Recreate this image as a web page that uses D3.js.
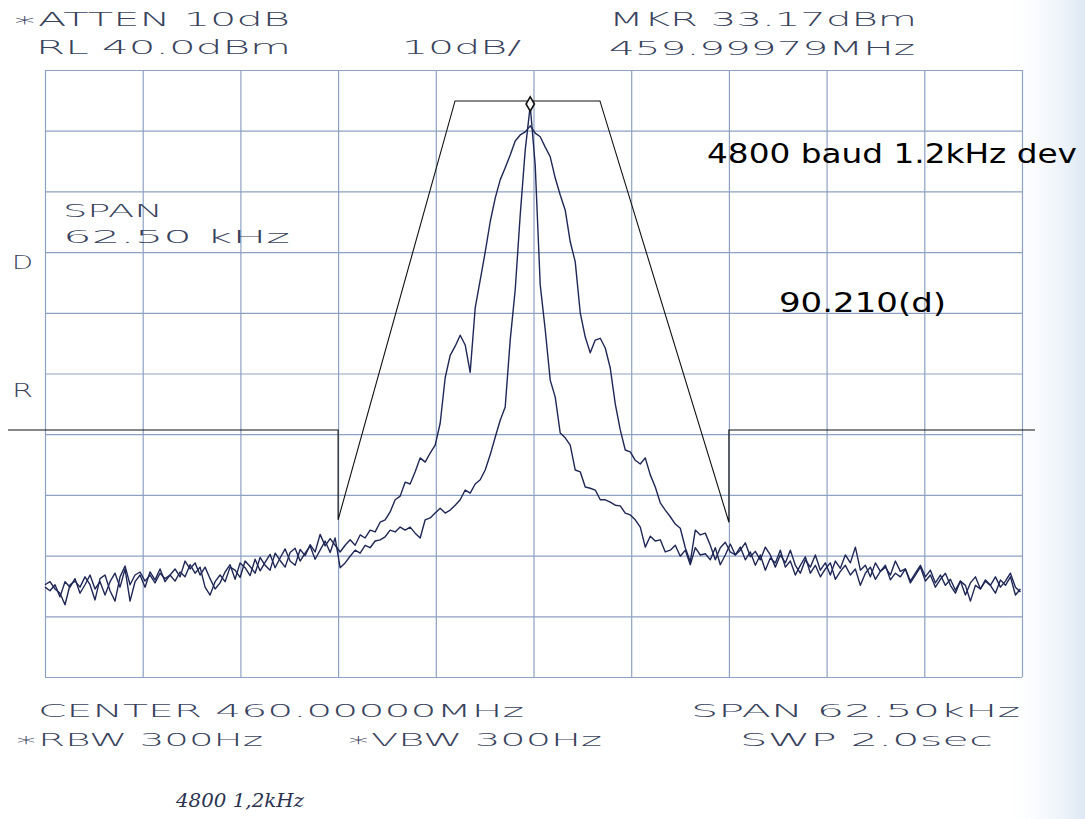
<!DOCTYPE html>
<html>
<head>
<meta charset="utf-8">
<script src="https://cdn.jsdelivr.net/npm/d3@7"></script>
<style>
  html, body { margin: 0; padding: 0; background: #ffffff; }
  svg { display: block; }
</style>
</head>
<body>
<svg id="chart" width="1085" height="819"></svg>
<script>
// ---- Data (frequency offset from 460.00000 MHz in kHz, level in dBm) ----
const freqKHz = [
  -31.25, -30.93, -30.61, -30.29, -29.97, -29.65, -29.33, -29.01, -28.69, -28.37,
  -28.05, -27.73, -27.41, -27.09, -26.77, -26.45, -26.13, -25.81, -25.49, -25.17,
  -24.85, -24.53, -24.21, -23.89, -23.57, -23.25, -22.93, -22.61, -22.29, -21.97,
  -21.65, -21.33, -21.01, -20.69, -20.37, -20.05, -19.73, -19.41, -19.09, -18.77,
  -18.45, -18.13, -17.81, -17.49, -17.17, -16.85, -16.53, -16.21, -15.89, -15.57,
  -15.25, -14.93, -14.61, -14.29, -13.97, -13.65, -13.33, -13.01, -12.69, -12.37,
  -12.05, -11.73, -11.41, -11.09, -10.77, -10.45, -10.13, -9.81, -9.49, -9.17,
  -8.85, -8.53, -8.21, -7.89, -7.57, -7.25, -6.93, -6.61, -6.29, -5.97,
  -5.65, -5.33, -5.01, -4.69, -4.37, -4.05, -3.73, -3.41, -3.09, -2.77,
  -2.45, -2.13, -1.81, -1.49, -1.17, -0.85, -0.53, -0.21, 0.11, 0.43,
  0.75, 1.07, 1.39, 1.71, 2.03, 2.35, 2.67, 2.99, 3.31, 3.63,
  3.95, 4.27, 4.59, 4.91, 5.23, 5.55, 5.87, 6.19, 6.51, 6.83,
  7.15, 7.47, 7.79, 8.11, 8.43, 8.75, 9.07, 9.39, 9.71, 10.03,
  10.35, 10.67, 10.99, 11.31, 11.63, 11.95, 12.27, 12.59, 12.91, 13.23,
  13.55, 13.87, 14.19, 14.51, 14.83, 15.15, 15.47, 15.79, 16.11, 16.43,
  16.75, 17.07, 17.39, 17.71, 18.03, 18.35, 18.67, 18.99, 19.31, 19.63,
  19.95, 20.27, 20.59, 20.91, 21.23, 21.55, 21.87, 22.19, 22.51, 22.83,
  23.15, 23.47, 23.79, 24.11, 24.43, 24.75, 25.07, 25.39, 25.71, 26.03,
  26.35, 26.67, 26.99, 27.31, 27.63, 27.95, 28.27, 28.59, 28.91, 29.23,
  29.55, 29.87, 30.19, 30.51, 30.83, 31.15
];

// Modulated (4800 baud, 1.2 kHz dev) trace
const modulatedDBm = [
  -44.8, -44.3, -45.5, -46.2, -48.1, -44.8, -44.2, -45.2, -43.5, -44.8,
  -47.3, -43.8, -43.2, -45.8, -47.5, -43.5, -41.7, -44.8, -43.2, -42.7,
  -44.2, -43.2, -44.5, -42.9, -43.8, -43.2, -42.2, -43.5, -40.9, -42.2,
  -41.2, -43.2, -41.9, -43.8, -45.5, -44.5, -42.7, -41.5, -43.9, -41.2,
  -42.0, -43.3, -40.6, -42.5, -41.1, -39.8, -42.0, -40.4, -38.9, -40.9,
  -41.6, -39.0, -40.0, -38.2, -39.4, -36.5, -38.4, -37.2, -38.3, -39.4,
  -38.3, -37.4, -38.3, -36.6, -37.1, -35.8, -36.1, -34.5, -34.1, -32.8,
  -30.8, -30.2, -27.9, -28.2, -26.2, -23.9, -24.6, -23.1, -21.8, -18.2,
  -10.7, -7.0, -5.5, -3.7, -5.3, -9.8, 0.8, 5.4, 10.0, 15.0,
  18.9, 21.9, 23.9, 26.0, 28.3, 29.3, 29.8, 30.8, 29.6, 29.0,
  27.3, 25.7, 22.2, 19.4, 16.9, 11.7, 8.4, 0.0, -4.0, -6.6,
  -4.5, -4.2, -5.8, -9.1, -15.0, -19.3, -22.6, -22.9, -24.3, -24.9,
  -23.9, -26.7, -28.7, -31.3, -32.5, -33.6, -34.8, -35.5, -38.7, -41.0,
  -35.8, -36.6, -36.3, -38.3, -40.7, -38.7, -37.8, -39.4, -39.9, -39.1,
  -37.9, -40.2, -39.3, -40.7, -38.6, -39.9, -41.9, -39.9, -41.2, -39.1,
  -41.6, -42.9, -40.7, -41.9, -39.9, -42.4, -41.2, -43.2, -40.9, -42.1,
  -39.9, -41.2, -38.6, -42.4, -41.6, -43.5, -41.2, -42.6, -41.9, -43.2,
  -40.9, -42.6, -42.2, -44.2, -42.9, -41.6, -43.5, -42.4, -44.5, -43.2,
  -44.9, -43.9, -45.7, -44.2, -44.9, -47.5, -44.9, -45.5, -44.0, -44.9,
  -43.5, -45.2, -44.2, -42.9, -45.2, -46.0
];

// Carrier (narrow) trace
const carrierDBm = [
  -45.2, -45.8, -44.8, -46.8, -44.3, -45.2, -43.8, -46.2, -44.8, -43.2,
  -45.5, -44.3, -46.5, -44.3, -42.9, -45.2, -42.2, -47.5, -44.3, -43.2,
  -45.2, -42.7, -44.0, -42.2, -44.3, -43.2, -44.2, -42.7, -43.5, -41.5,
  -42.9, -41.9, -45.2, -46.5, -44.3, -43.2, -44.3, -41.9, -42.4, -43.6,
  -40.9, -41.8, -42.9, -40.3, -41.6, -42.4, -39.6, -40.8, -41.9, -39.5,
  -38.8, -40.9, -39.6, -38.4, -40.6, -39.1, -37.6, -39.5, -37.1, -42.0,
  -41.2, -40.1, -39.1, -39.6, -38.3, -38.7, -37.6, -37.4, -36.9, -35.8,
  -36.1, -35.3, -35.8, -35.3, -36.3, -37.1, -34.1, -33.8, -33.0, -32.2,
  -33.0, -32.5, -31.7, -30.8, -29.2, -29.7, -28.2, -27.5, -25.9, -23.4,
  -20.5, -17.7, -15.5, -4.5, 3.8, 16.1, 26.8, 34.1, 24.3, 4.6,
  -2.8, -11.1, -13.9, -19.8, -20.6, -21.8, -25.9, -26.2, -28.7, -28.9,
  -29.2, -30.8, -30.8, -31.2, -31.7, -31.8, -33.0, -33.3, -34.1, -35.3,
  -38.6, -36.8, -37.6, -37.4, -39.4, -39.1, -38.3, -40.1, -39.1, -41.5,
  -38.7, -39.9, -39.7, -40.7, -38.7, -41.5, -39.9, -38.1, -39.9, -38.6,
  -40.7, -39.4, -41.6, -39.9, -42.4, -40.4, -41.2, -39.1, -41.9, -40.9,
  -43.2, -41.6, -40.2, -42.9, -41.6, -43.5, -42.2, -41.2, -43.9, -42.6,
  -41.6, -43.2, -42.2, -44.9, -42.9, -41.9, -43.9, -42.6, -41.6, -44.0,
  -42.9, -43.5, -42.2, -44.5, -43.2, -41.9, -44.2, -43.2, -45.2, -43.9,
  -42.9, -44.9, -46.2, -44.2, -46.5, -44.5, -43.5, -45.5, -44.2, -44.9,
  -46.2, -44.0, -44.9, -43.5, -46.5, -45.5
];

// Emission mask
const maskKHz = [-33.62, -12.5, -12.5, -5.02, 4.25, 12.5, 12.5, 32.08];
const maskDBm = [-19.3, -19.3, -34.1, 34.9, 34.9, -34.5, -19.3, -19.3];

// Marker
const markerKHz = -0.21;
const markerDBm = 34.4;

// Grid ticks
const xTicks = [-31.25, -25, -18.75, -12.5, -6.25, 0, 6.25, 12.5, 18.75, 25, 31.25];
const yTicks = [-60, -50, -40, -30, -20, -10, 0, 10, 20, 30, 40];

// Annotation texts
const headerTexts = ["\u2217ATTEN 10dB", "RL 40.0dBm", "10dB/", "MKR 33.17dBm", "459.99979MHz"];
const spanTexts = ["SPAN", "62.50 kHz"];
const sideTexts = ["D", "R"];
const footerTexts = ["CENTER 460.00000MHz", "SPAN 62.50kHz", "\u2217RBW 300Hz", "\u2217VBW 300Hz", "SWP 2.0sec"];
const noteTexts = ["4800 baud 1.2kHz dev", "90.210(d)"];
const handNote = "4800 1,2kHz";

// ---- Drawing ----
const svg = d3.select("#chart");
const W = 1085, H = 819;

const defs = svg.append("defs");
const grad = defs.append("linearGradient").attr("id", "scanTint")
  .attr("x1", "0").attr("x2", "1").attr("y1", "0").attr("y2", "0");
grad.append("stop").attr("offset", "0").attr("stop-color", "#ffffff").attr("stop-opacity", 0);
grad.append("stop").attr("offset", "1").attr("stop-color", "#dde8f4").attr("stop-opacity", 1);

svg.append("rect").attr("width", W).attr("height", H).attr("fill", "#ffffff");
svg.append("rect").attr("x", 1000).attr("y", 0).attr("width", 85).attr("height", H).attr("fill", "url(#scanTint)");

const x = d3.scaleLinear().domain([-31.25, 31.25]).range([45, 1022]);
const y = d3.scaleLinear().domain([-60, 40]).range([677, 70]);

const gridColor = "#8da1c3";

// vertical grid
const gx = svg.append("g").attr("transform", `translate(0,${y(-60)})`)
  .call(d3.axisBottom(x).tickValues(xTicks).tickSize(-(y(-60) - y(40))).tickFormat(""));
gx.select(".domain").remove();
gx.selectAll(".tick line").attr("stroke", gridColor).attr("stroke-width", 1.2);

// horizontal grid
const gy = svg.append("g").attr("transform", `translate(${x(-31.25)},0)`)
  .call(d3.axisLeft(y).tickValues(yTicks).tickSize(-(x(31.25) - x(-31.25))).tickFormat(""));
gy.select(".domain").remove();
gy.selectAll(".tick line").attr("stroke", gridColor).attr("stroke-width", 1.2);

// traces
const line = d3.line().x(d => x(d[0])).y(d => y(d[1]));
const n = Math.min(freqKHz.length, modulatedDBm.length, carrierDBm.length);
const modPts = [], carPts = [];
for (let i = 0; i < n; i++) {
  modPts.push([freqKHz[i], modulatedDBm[i]]);
  carPts.push([freqKHz[i], carrierDBm[i]]);
}
const traceColor = "#1e2756";
svg.append("path").datum(modPts).attr("d", line)
  .attr("fill", "none").attr("stroke", traceColor).attr("stroke-width", 1.4).attr("stroke-linejoin", "round");
svg.append("path").datum(carPts).attr("d", line)
  .attr("fill", "none").attr("stroke", traceColor).attr("stroke-width", 1.4).attr("stroke-linejoin", "round");

// mask
const maskPts = maskKHz.map((k, i) => [k, maskDBm[i]]);
svg.append("path").datum(maskPts).attr("d", line)
  .attr("fill", "none").attr("stroke", "#111111").attr("stroke-width", 1.1);

// marker
svg.append("path")
  .attr("d", d3.symbol().type(d3.symbolDiamond).size(60)())
  .attr("transform", `translate(${x(markerKHz)},${y(markerDBm)})`)
  .attr("fill", "#ffffff").attr("stroke", "#111111").attr("stroke-width", 1.6);

// plotter-style texts
const plotFont = "'DejaVu Sans', sans-serif";
const plotColor = "#38425c";
function plotText(str, x0, x1, base, size) {
  svg.append("text")
    .attr("x", x0).attr("y", base)
    .attr("textLength", x1 - x0).attr("lengthAdjust", "spacingAndGlyphs")
    .attr("font-family", plotFont).attr("font-size", size).attr("font-weight", 200)
    .attr("fill", plotColor)
    .text(str);
}
plotText(headerTexts[0], 12, 290, 26, 19);
plotText(headerTexts[1], 36, 291, 54, 19);
plotText(headerTexts[2], 402, 521, 54, 19);
plotText(headerTexts[3], 609, 917, 26, 19);
plotText(headerTexts[4], 609, 915, 55, 19);
plotText(spanTexts[0], 63, 163, 217, 17);
plotText(spanTexts[1], 63, 290, 243, 17);
plotText(sideTexts[0], 12, 33, 269, 19);
plotText(sideTexts[1], 12, 33, 397, 19);
plotText(footerTexts[0], 38, 524, 717, 18);
plotText(footerTexts[1], 691, 1020, 717, 18);
plotText(footerTexts[2], 14, 263, 746, 18);
plotText(footerTexts[3], 346, 602, 746, 18);
plotText(footerTexts[4], 740, 993, 746, 18);

// handwritten note
svg.append("text").attr("x", 176).attr("y", 807)
  .attr("textLength", 128).attr("lengthAdjust", "spacingAndGlyphs")
  .attr("font-family", "'DejaVu Serif', serif").attr("font-style", "italic")
  .attr("font-size", 18).attr("fill", "#2a3350")
  .text(handNote);

// typed annotations
function noteText(str, x0, x1, base) {
  svg.append("text").attr("x", x0).attr("y", base)
    .attr("textLength", x1 - x0).attr("lengthAdjust", "spacingAndGlyphs")
    .attr("font-family", "'DejaVu Sans', sans-serif").attr("font-size", 26)
    .attr("fill", "#000000")
    .text(str);
}
noteText(noteTexts[0], 707, 1077, 163);
noteText(noteTexts[1], 779, 946, 312);
</script>
</body>
</html>
